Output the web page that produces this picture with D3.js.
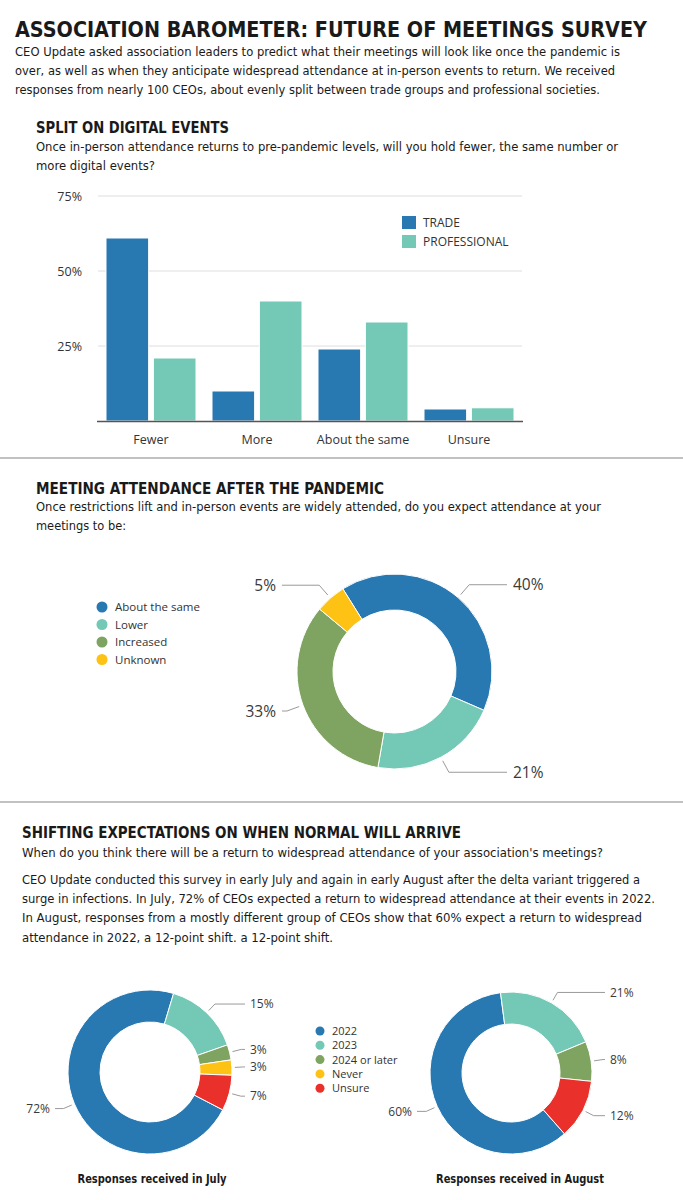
<!DOCTYPE html>
<html>
<head>
<meta charset="utf-8">
<script src="https://cdn.jsdelivr.net/npm/d3@7/dist/d3.min.js"></script>
<style>
  html, body { margin: 0; padding: 0; background: #fff; }
  svg { display: block; }
  .cond { font-family: "Liberation Sans Narrow", "DejaVu Sans Condensed", "Noto Sans", sans-serif; fill: #1a1a1a; }
  .chart { font-family: "Open Sans", "Noto Sans", sans-serif; fill: #333; }
</style>
</head>
<body>
<script>
// ---------------- DATA ----------------
const barCategories = ["Fewer", "More", "About the same", "Unsure"];
const barSeries = ["TRADE", "PROFESSIONAL"];
const tradeValues = [61, 10, 24, 4];
const professionalValues = [21, 40, 33, 4.4];
const barTicks = [25, 50, 75];

const attendanceLabels = ["About the same", "Lower", "Increased", "Unknown"];
const attendanceValues = [40, 21, 33, 5];

const yearLabels = ["2022", "2023", "2024 or later", "Never", "Unsure"];
const julyValues = [72, 15, 3, 3, 7];
const augustValues = [60, 21, 8, 0, 12];

const textTitle = "ASSOCIATION BAROMETER: FUTURE OF MEETINGS SURVEY";
const introLines = [
  "CEO Update asked association leaders to predict what their meetings will look like once the pandemic is",
  "over, as well as when they anticipate widespread attendance at in-person events to return. We received",
  "responses from nearly 100 CEOs, about evenly split between trade groups and professional societies."
];
const s1Title = "SPLIT ON DIGITAL EVENTS";
const s1Lines = [
  "Once in-person attendance returns to pre-pandemic levels, will you hold fewer, the same number or",
  "more digital events?"
];
const s2Title = "MEETING ATTENDANCE AFTER THE PANDEMIC";
const s2Lines = [
  "Once restrictions lift and in-person events are widely attended, do you expect attendance at your",
  "meetings to be:"
];
const s3Title = "SHIFTING EXPECTATIONS ON WHEN NORMAL WILL ARRIVE";
const s3Sub = "When do you think there will be a return to widespread attendance of your association's meetings?";
const s3Lines = [
  "CEO Update conducted this survey in early July and again in early August after the delta variant triggered a",
  "surge in infections. In July, 72% of CEOs expected a return to widespread attendance at their events in 2022.",
  "In August, responses from a mostly different group of CEOs show that 60% expect a return to widespread",
  "attendance in 2022, a 12-point shift. a 12-point shift."
];
const captions = ["Responses received in July", "Responses received in August"];

// ---------------- STYLE ----------------
const BLUE = "#2878b1", TEAL = "#74c9b6", GREEN = "#7fa461", YELLOW = "#fdc214", RED = "#e9302b";
const attendanceColors = [BLUE, TEAL, GREEN, YELLOW];
const yearColors = [BLUE, TEAL, GREEN, YELLOW, RED];
const seriesColors = [BLUE, TEAL];

const W = 683, H = 1200;
const svg = d3.select("body").append("svg").attr("width", W).attr("height", H);

function textLine(str, x, y, size, weight, len, cls) {
  const t = svg.append("text").attr("class", cls || "cond")
    .attr("x", x).attr("y", y)
    .style("font-size", size + "px").style("font-weight", weight)
    .text(str);
  if (len) t.attr("textLength", len).attr("lengthAdjust", "spacingAndGlyphs");
  return t;
}

// ---------------- HEADER TEXT ----------------
textLine(textTitle, 15, 37, 20.5, 700, 632);
const introW = [605, 600, 585];
introLines.forEach((l, i) => textLine(l, 15, 56 + i * 19, 13, 400, introW[i]));

textLine(s1Title, 36, 133, 15, 700, 193);
const s1W = [582, 119];
s1Lines.forEach((l, i) => textLine(l, 36, 151 + i * 18.5, 13, 400, s1W[i]));

// divider lines
[458, 802].forEach(y => svg.append("line").attr("x1", 0).attr("x2", W).attr("y1", y).attr("y2", y)
  .attr("stroke", "#c2c2c2").attr("stroke-width", 2));

textLine(s2Title, 36, 494, 15, 700, 348);
const s2W = [565, 90];
s2Lines.forEach((l, i) => textLine(l, 36, 511 + i * 19, 13, 400, s2W[i]));

textLine(s3Title, 22, 838, 15, 700, 439);
textLine(s3Sub, 22, 857, 13, 400, 581);
const s3W = [618, 633, 620, 311];
s3Lines.forEach((l, i) => textLine(l, 22, 884 + i * 19.2, 12.6, 400, s3W[i]));

// ---------------- BAR CHART ----------------
const y = d3.scaleLinear().domain([0, 75]).range([421, 196]);
const x0 = d3.scaleBand().domain(barCategories).range([98, 522]).padding(0);
const x1 = d3.scaleBand().domain(barSeries).range([8, x0.bandwidth() - 8]).paddingInner(0.1).paddingOuter(0);

const grid = svg.append("g");
barTicks.forEach(t => {
  grid.append("line").attr("x1", 98).attr("x2", 522).attr("y1", y(t)).attr("y2", y(t))
    .attr("stroke", "#dedede").attr("stroke-width", 1);
  svg.append("text").attr("class", "chart").attr("x", 82).attr("y", y(t) + 4.5)
    .attr("text-anchor", "end").style("font-size", "12.5px").text(t + "%");
});

const barRows = barCategories.map((c, i) => ({ cat: c, vals: [tradeValues[i], professionalValues[i]] }));
const groups = svg.append("g").selectAll("g").data(barRows).join("g")
  .attr("transform", d => `translate(${x0(d.cat)},0)`);
groups.selectAll("rect").data(d => d.vals.map((v, j) => ({ s: barSeries[j], v, j }))).join("rect")
  .attr("x", d => x1(d.s)).attr("width", x1.bandwidth())
  .attr("y", d => y(d.v)).attr("height", d => y(0) - y(d.v))
  .attr("fill", d => seriesColors[d.j]).attr("stroke", "#fff").attr("stroke-width", 1);

svg.append("line").attr("x1", 97).attr("x2", 523).attr("y1", y(0) + 0.5).attr("y2", y(0) + 0.5)
  .attr("stroke", "#555").attr("stroke-width", 1.5);

barCategories.forEach(c => {
  svg.append("text").attr("class", "chart").attr("x", x0(c) + x0.bandwidth() / 2).attr("y", 443.5)
    .attr("text-anchor", "middle").style("font-size", "12.5px").text(c);
});

// bar legend
barSeries.forEach((s, i) => {
  svg.append("rect").attr("x", 402).attr("y", 216 + i * 19).attr("width", 14).attr("height", 13)
    .attr("fill", seriesColors[i]);
  svg.append("text").attr("class", "chart").attr("x", 423).attr("y", 227 + i * 19)
    .style("font-size", "12px").text(s);
});

// ---------------- DONUT HELPERS ----------------
const deg = Math.PI / 180;
function donut(values, colors, cx, cy, rOut, rIn, startDeg, opts) {
  const pie = d3.pie().sort(null).startAngle(startDeg * deg).endAngle(startDeg * deg + 2 * Math.PI);
  const arcs = pie(values);
  const arc = d3.arc().innerRadius(rIn).outerRadius(rOut);
  const g = svg.append("g").attr("transform", `translate(${cx},${cy})`);
  g.selectAll("path").data(arcs).join("path")
    .attr("d", d => d.value > 0 ? arc(d) : null)
    .attr("fill", (d, i) => colors[i]).attr("stroke", "#fff").attr("stroke-width", 1);

  arcs.forEach(d => {
    if (d.value <= 0) return;
    const mid = (d.startAngle + d.endAngle) / 2;
    const sx = Math.sin(mid), sy = -Math.cos(mid);
    const p1 = [cx + sx * (rOut + opts.start), cy + sy * (rOut + opts.start)];
    const p2 = [cx + sx * (rOut + opts.elbow), cy + sy * (rOut + opts.elbow)];
    const right = sx >= 0;
    const endX = right ? cx + rOut + opts.reach : cx - rOut - opts.reach;
    if (right) p2[0] = Math.min(p2[0], endX); else p2[0] = Math.max(p2[0], endX);
    svg.append("path")
      .attr("d", d3.line()([p1, p2, [endX, p2[1]]]))
      .attr("fill", "none").attr("stroke", "#9a9a9a").attr("stroke-width", 1);
    svg.append("text").attr("class", "chart")
      .attr("x", right ? endX + opts.gap : endX - opts.gap)
      .attr("y", p2[1] + opts.size * 0.36)
      .attr("text-anchor", right ? "start" : "end")
      .style("font-size", opts.size + "px").style("fill", "#3a3a3a")
      .text(d3.format("d")(d.value) + "%");
  });
}

// ---------------- ATTENDANCE DONUT ----------------
donut(attendanceValues, attendanceColors, 394.5, 671.5, 97.5, 61.5, -32,
  { start: 4, elbow: 17, reach: 15, gap: 6, size: 15.5 });

attendanceLabels.forEach((l, i) => {
  svg.append("circle").attr("cx", 102).attr("cy", 607 + i * 17.5).attr("r", 5.5).attr("fill", attendanceColors[i]);
  svg.append("text").attr("class", "chart").attr("x", 115).attr("y", 611 + i * 17.5)
    .style("font-size", "11.5px").text(l);
});

// ---------------- JULY / AUGUST DONUTS ----------------
const donutOpts = { start: 3, elbow: 12, reach: 13, gap: 5, size: 12 };
donut(julyValues, yearColors, 150, 1072, 82, 50, 117.5, donutOpts);
donut(augustValues, yearColors, 511, 1073, 81, 49, 138.7, donutOpts);

yearLabels.forEach((l, i) => {
  svg.append("circle").attr("cx", 320).attr("cy", 1031 + i * 14.3).attr("r", 4.5).attr("fill", yearColors[i]);
  svg.append("text").attr("class", "chart").attr("x", 332).attr("y", 1035 + i * 14.3)
    .style("font-size", "11px").text(l);
});

textLine(captions[0], 152, 1183, 13, 700, 149).attr("text-anchor", "middle");
textLine(captions[1], 520, 1183, 13, 700, 168).attr("text-anchor", "middle");
</script>
</body>
</html>
